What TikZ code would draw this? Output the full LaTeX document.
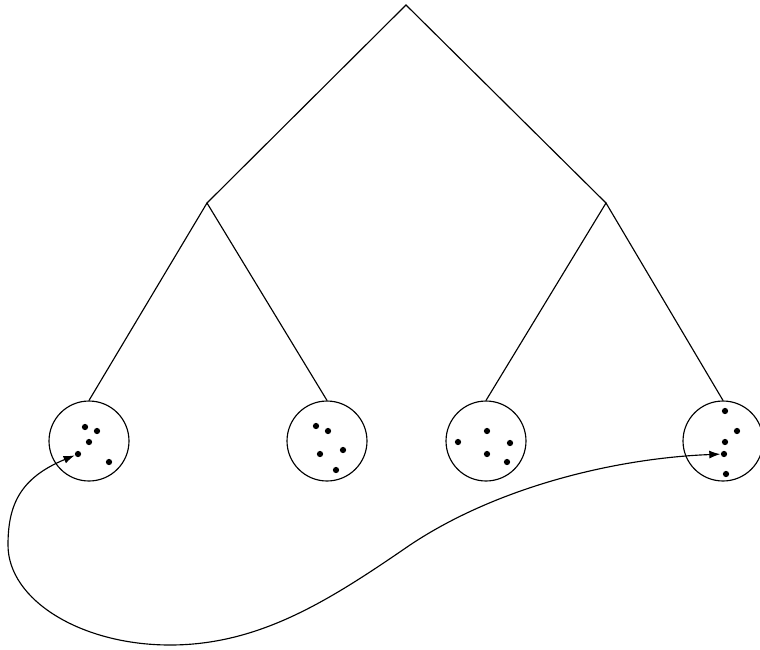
\documentclass[tikz,border=0pt]{standalone}
\usepackage{tikz}
\usetikzlibrary{arrows.meta}

\begin{document}
\begin{tikzpicture}[x=0.02cm,y=-0.02cm,line width=0.65pt,
  leaf/.style={draw,circle,minimum size=1.6cm,inner sep=0pt},
  pt/.style={fill,circle,minimum size=0.125cm,inner sep=0pt},
  link/.style={{Latex[length=2.2mm,width=1.6mm]}-{Latex[length=2.2mm,width=1.6mm]}}]
\path[use as bounding box] (0,0) rectangle (760,649);
% tree
\coordinate (root) at (406,5);
\coordinate (midL) at (207,203);
\coordinate (midR) at (606,203);
\node[leaf] (leafA) at (89,441) {};
\node[leaf] (leafB) at (327,441) {};
\node[leaf] (leafC) at (486,441) {};
\node[leaf] (leafD) at (723,441) {};
\draw (midL) -- (root) -- (midR);
\draw (leafA.north) -- (midL) -- (leafB.north);
\draw (leafC.north) -- (midR) -- (leafD.north);
% points in the leaves
\node[pt] (a1) at (85,427) {};
\node[pt] (a2) at (97,431) {};
\node[pt] (a3) at (89,442) {};
\node[pt] (a4) at (78,454) {};
\node[pt] (a5) at (109,462) {};
\node[pt] (b1) at (316,426) {};
\node[pt] (b2) at (328,431) {};
\node[pt] (b3) at (343,450) {};
\node[pt] (b4) at (320,454) {};
\node[pt] (b5) at (336,470) {};
\node[pt] (c1) at (487,431) {};
\node[pt] (c2) at (458,442) {};
\node[pt] (c3) at (510,443) {};
\node[pt] (c4) at (487,454) {};
\node[pt] (c5) at (507,462) {};
\node[pt] (d1) at (725,411) {};
\node[pt] (d2) at (737,431) {};
\node[pt] (d3) at (725,442) {};
\node[pt] (d4) at (724,454) {};
\node[pt] (d5) at (726,474) {};
% link between the leaves
\draw[link] (a4) .. controls (20,478) and (8,505) .. (8,545)
  .. controls (8,600) and (81,645) .. (170,645)
  .. controls (260,645) and (330,600) .. (410,545)
  .. controls (500,485) and (620,458) .. (d4);
\end{tikzpicture}
\end{document}
